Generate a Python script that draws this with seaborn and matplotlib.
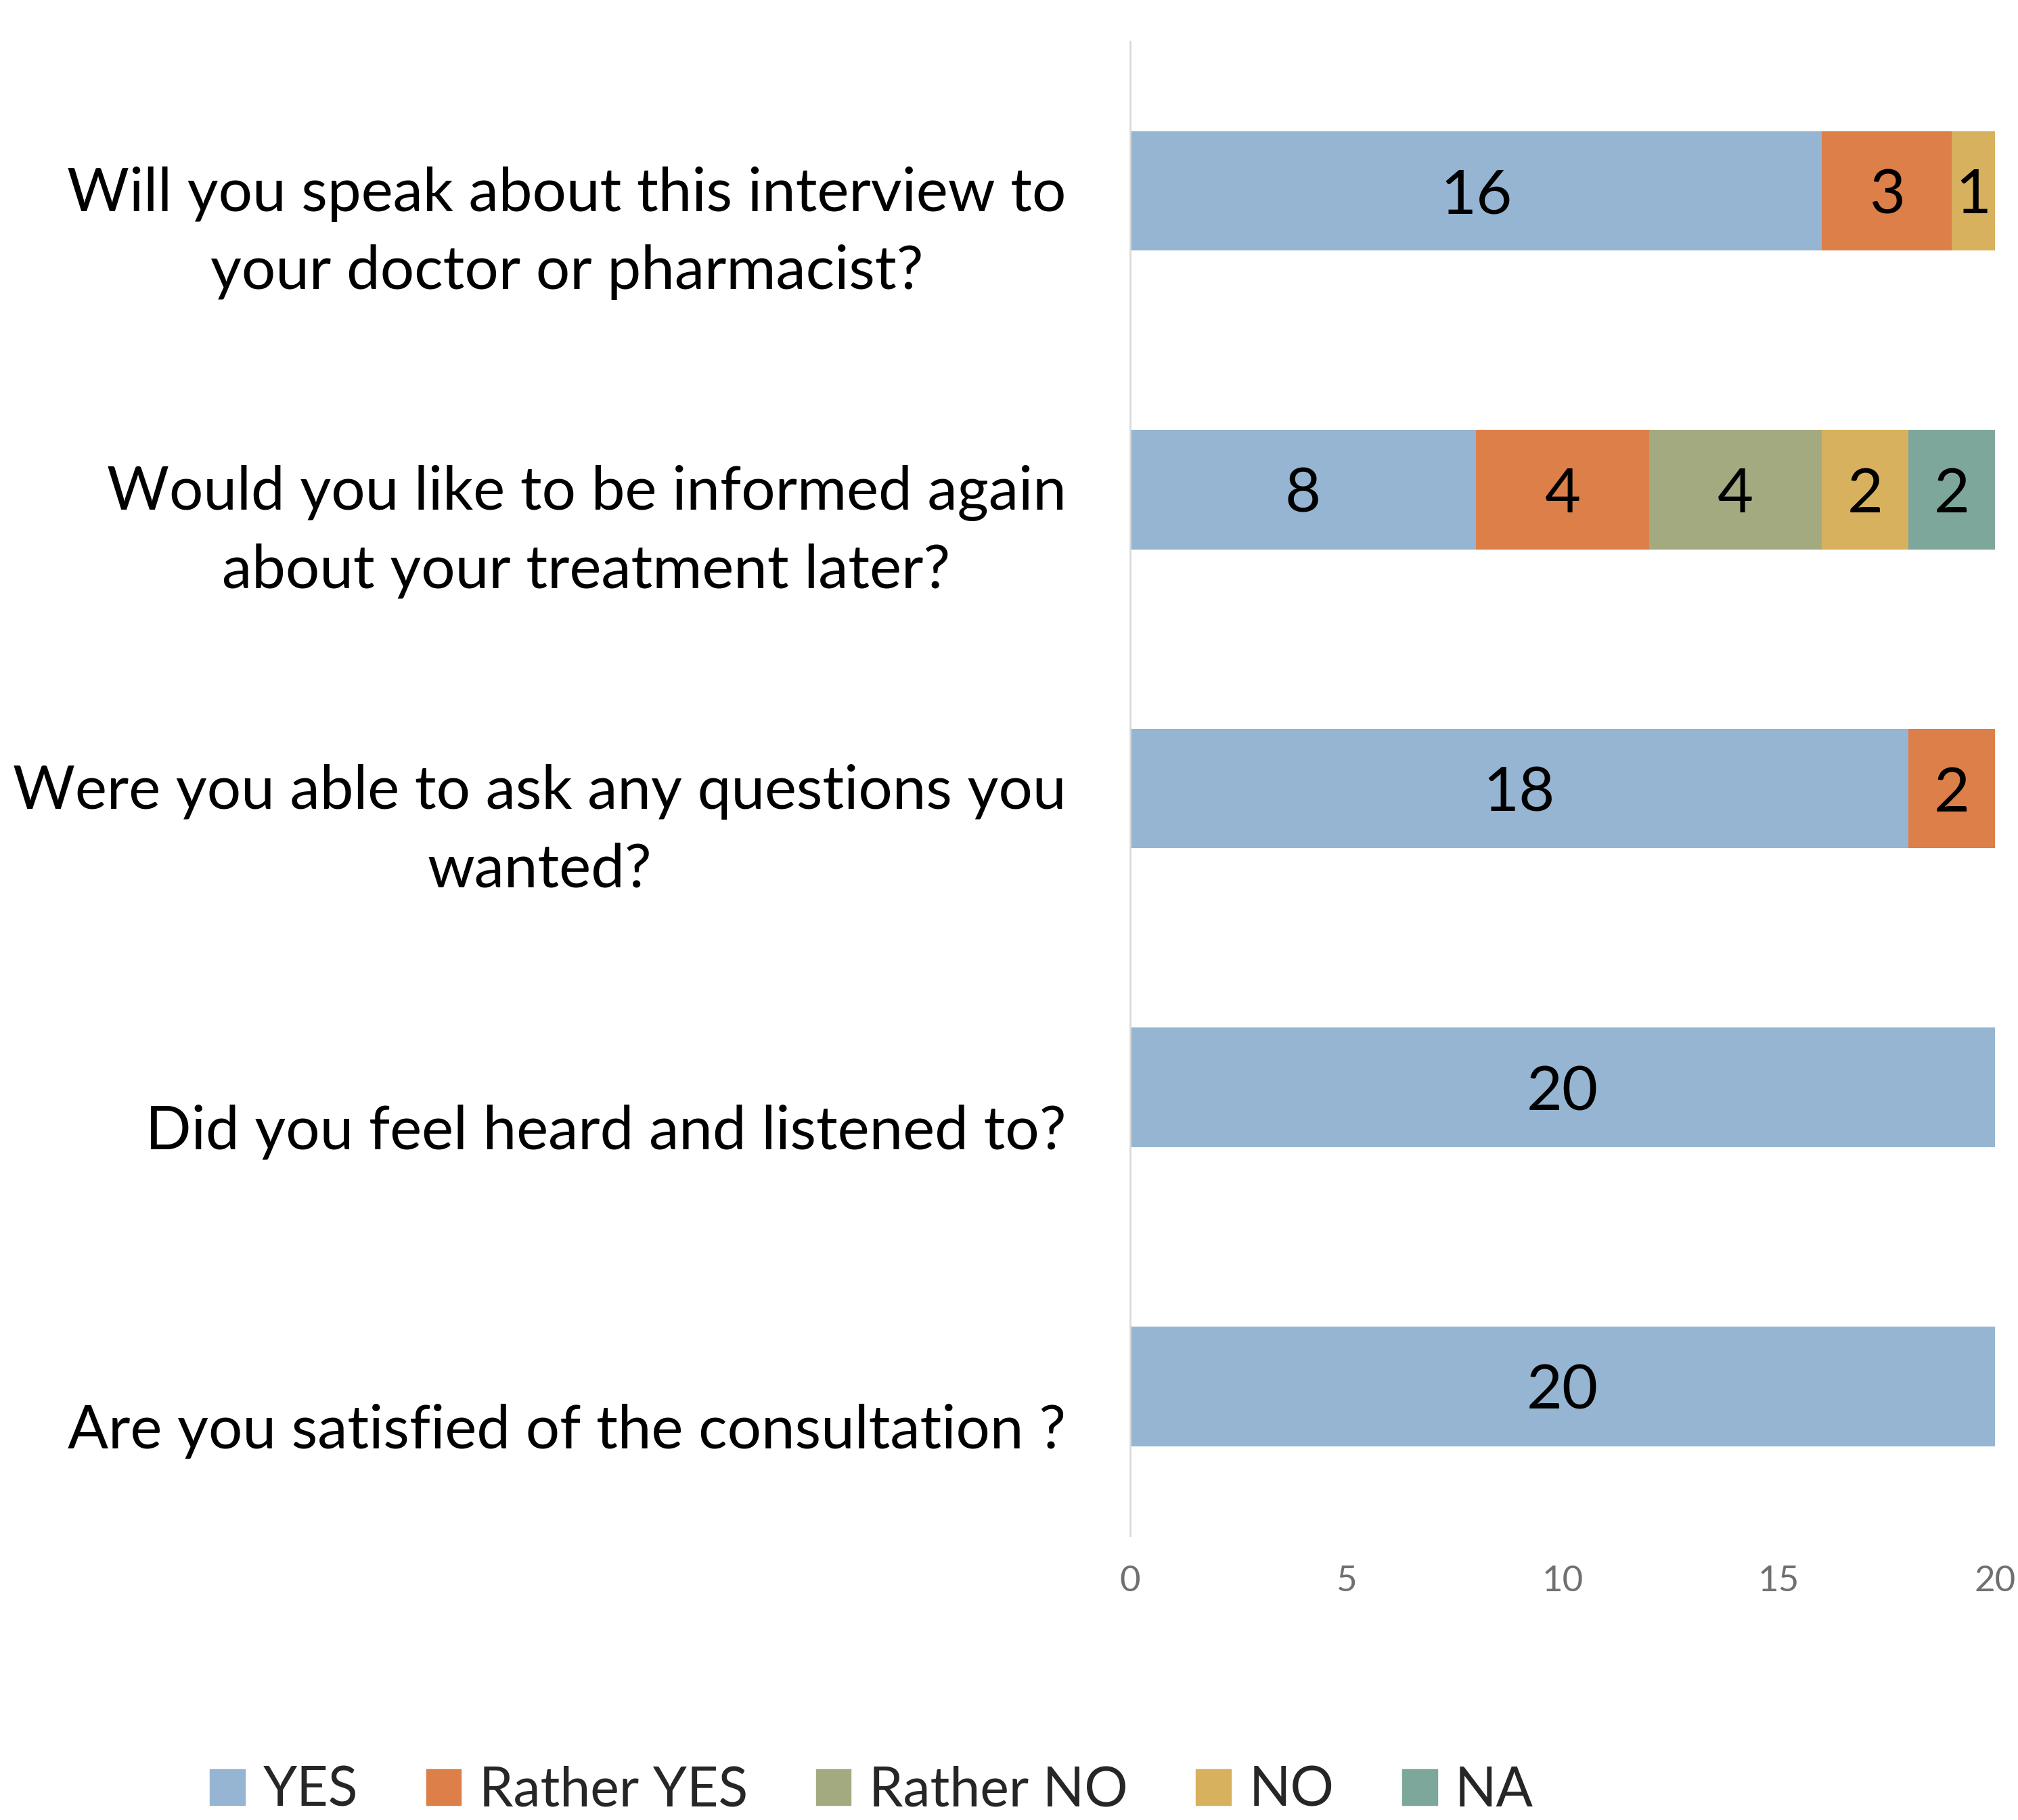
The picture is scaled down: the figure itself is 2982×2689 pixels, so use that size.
import numpy as np
import pandas as pd
import matplotlib
matplotlib.use("Agg")
import matplotlib.pyplot as plt
import matplotlib.transforms as mtransforms
import seaborn as sns

# questions, top to bottom
questions = [
    "Will you speak about this interview to\nyour doctor or pharmacist?",
    "Would you like to be informed again\nabout your treatment later?",
    "Were you able to ask any questions you\nwanted?",
    "Did you feel heard and listened to?",
    "Are you satisfied of the consultation ?",
]
answers = ["YES", "Rather YES", "Rather NO", "NO", "NA"]
yes = [16, 8, 18, 20, 20]
rather_yes = [3, 4, 2, 0, 0]
rather_no = [0, 4, 0, 0, 0]
no = [1, 2, 0, 0, 0]
na = [0, 2, 0, 0, 0]
colors = ["#95B5D2", "#DD7F49", "#A4AA80", "#D8B15E", "#7DA79B"]

sns.set_style("white")
plt.rcParams["font.family"] = ["Lato", "DejaVu Sans"]

df = pd.DataFrame({"question": questions, "YES": yes, "Rather YES": rather_yes,
                   "Rather NO": rather_no, "NO": no, "NA": na})
cum = df[answers].cumsum(axis=1)

fig = plt.figure(figsize=(29.82, 26.89), dpi=100)
ax = fig.add_axes([0.560, 0.1562, 0.9886 - 0.560, 0.9773 - 0.1562])

# draw cumulative totals from the last category back, so each overlays the next
for ans, col in reversed(list(zip(answers, colors))):
    sns.barplot(x=cum[ans], y=df["question"], color=col, width=0.4,
                orient="h", ax=ax, saturation=1, linewidth=0)
handles = [plt.Rectangle((0, 0), 1, 1, color=col, label=ans)
           for ans, col in zip(answers, colors)]

# value labels at segment centres
for i, q in enumerate(questions):
    for ans in answers:
        v = df.loc[i, ans]
        if v > 0:
            ax.text(cum.loc[i, ans] - v / 2, i, str(v), ha="center",
                    va="center_baseline", fontsize=66, color="black")

ax.set_xlim(0, 20)
ax.set_ylim(4.5, -0.5)
ax.set_xlabel("")
ax.set_ylabel("")
ax.set_xticks([0, 5, 10, 15, 20])
ax.tick_params(axis="x", labelsize=38, labelcolor="#707070", length=0, pad=32)
ax.tick_params(axis="y", labelsize=64, labelcolor="black", length=0, pad=68)
for lab in ax.get_yticklabels():
    lab.set_multialignment("center")
    lab.set_linespacing(1.5)
    dy = -0.38 if "\n" in lab.get_text() else -0.58
    shift = mtransforms.ScaledTranslation(0, dy, fig.dpi_scale_trans)
    lab.set_transform(lab.get_transform() + shift)
for s in ["top", "right", "bottom"]:
    ax.spines[s].set_visible(False)
ax.spines["left"].set_color("#D9D9D9")
ax.spines["left"].set_linewidth(2)
ax.grid(False)

fig.legend(handles=handles, loc="center", bbox_to_anchor=(0.432, 0.016), ncol=5,
           frameon=False, fontsize=58, handlelength=0.64, handleheight=0.64,
           handletextpad=0.33, columnspacing=1.25)

fig.savefig("out.png", dpi=100)
